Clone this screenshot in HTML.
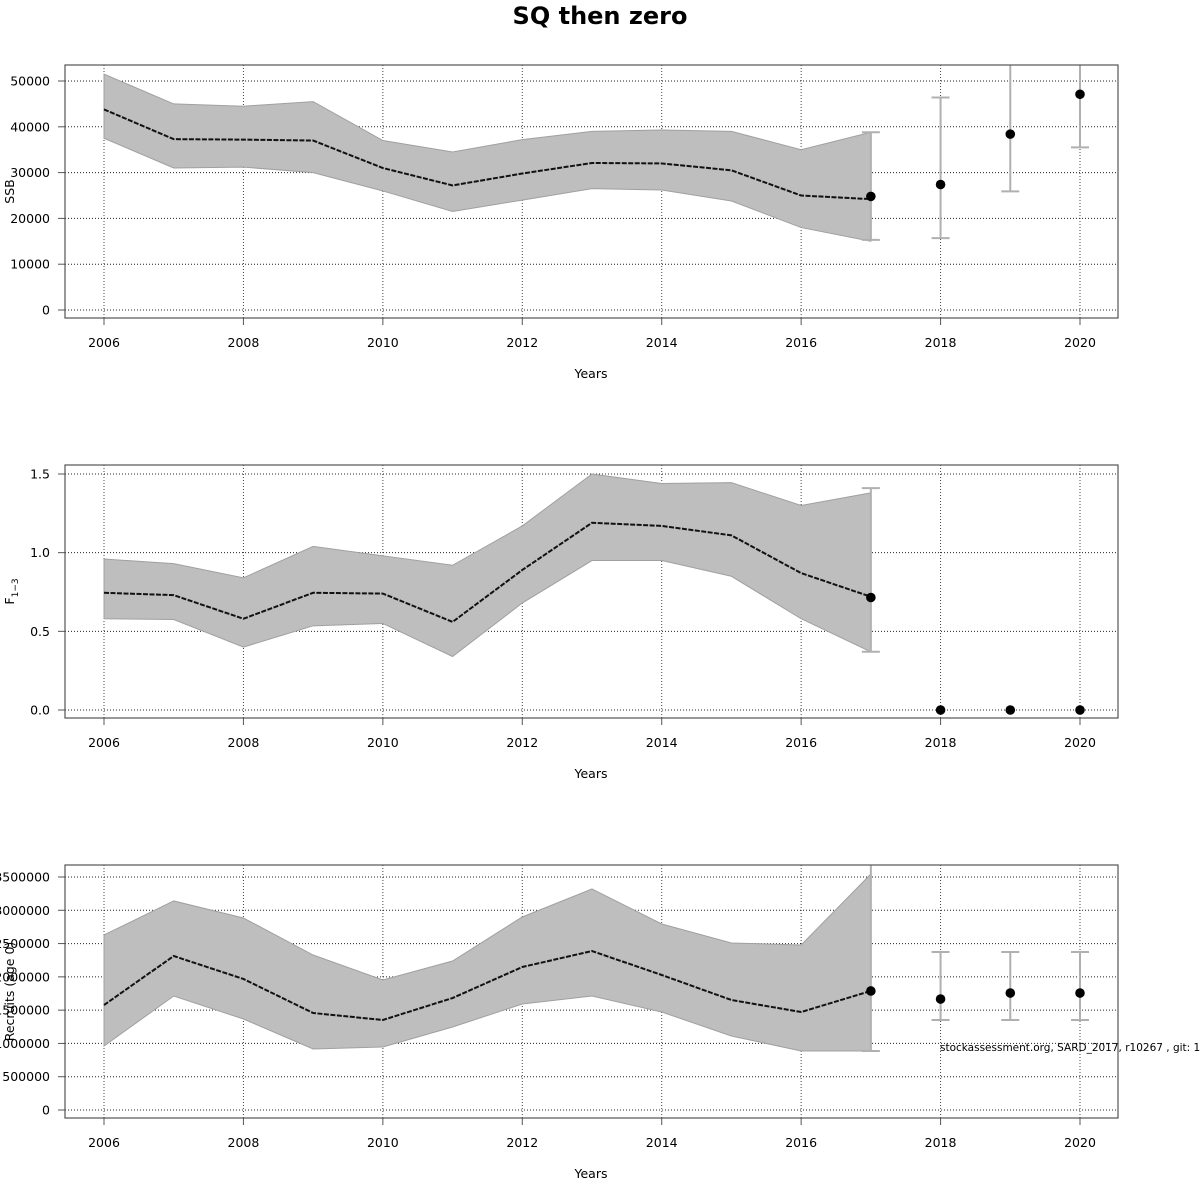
<!DOCTYPE html>
<html><head><meta charset="utf-8"><style>
html,body{margin:0;padding:0;background:#fff}
svg{display:block;font-family:"DejaVu Sans","Liberation Sans",sans-serif}
</style></head><body>
<svg id="c" width="1200" height="1200" viewBox="0 0 1200 1200">
<text x="600" y="24" text-anchor="middle" font-size="24" font-weight="bold">SQ then zero</text>
<text x="940" y="1051" font-size="10.5">stockassessment.org, SARD_2017, r10267 , git: 121ae</text>
</svg>
<script>
const years=[2006,2007,2008,2009,2010,2011,2012,2013,2014,2015,2016,2017];
const fcYears=[2017,2018,2019,2020];
const xTicks=[2006,2008,2010,2012,2014,2016,2018,2020];
// SSB
const ssbMean=[43800,37300,37200,37000,31000,27200,29800,32100,32000,30500,25000,24200];
const ssbHi=[51500,45000,44500,45500,37000,34500,37200,39000,39300,39000,35000,38800];
const ssbLo=[37500,31000,31200,30000,26000,21500,24000,26500,26200,23800,18000,15000];
const ssbPts=[24800,27400,38400,47100];
const ssbPtsLo=[15300,15700,25900,35500];
const ssbPtsHi=[38800,46400,56000,62000];
const ssbTicks=[0,10000,20000,30000,40000,50000];
// F
const fMean=[0.745,0.73,0.58,0.745,0.74,0.56,0.89,1.19,1.17,1.11,0.87,0.72];
const fHi=[0.96,0.93,0.84,1.04,0.98,0.92,1.17,1.50,1.44,1.445,1.30,1.38];
const fLo=[0.58,0.575,0.40,0.535,0.55,0.34,0.68,0.95,0.95,0.85,0.58,0.37];
const fPts=[0.715,0,0,0];
const fPtsLo=[0.37,0,0,0];
const fPtsHi=[1.41,0,0,0];
const fTicks=[0,0.5,1.0,1.5];
const fTickLabels=["0.0","0.5","1.0","1.5"];
// Recruits
const rMean=[1577000,2313000,1968000,1457000,1352000,1682000,2148000,2388000,2028000,1652000,1472000,1788000];
const rHi=[2629000,3140000,2884000,2328000,1953000,2238000,2899000,3320000,2794000,2509000,2479000,3545000];
const rLo=[961000,1712000,1367000,916000,946000,1247000,1592000,1712000,1472000,1112000,886000,886000];
const rPts=[1788000,1667000,1757000,1757000];
const rPtsLo=[886000,1352000,1352000,1352000];
const rPtsHi=[3700000,2373000,2373000,2373000];
const rTicks=[0,500000,1000000,1500000,2000000,2500000,3000000,3500000];

const svg=document.getElementById('c');
const NS='http://www.w3.org/2000/svg';
function mk(tag,attrs,parent){const e=document.createElementNS(NS,tag);for(const k in attrs)e.setAttribute(k,attrs[k]);(parent||svg).appendChild(e);return e;}
const xs=y=>104+(y-2006)*(1080-104)/14;
const L=65,R=1118;

function panel(cfg){
  const {top,bot,y0px,ymaxpx,ymaxVal,name}=cfg;
  const ys=v=>y0px-v*(y0px-ymaxpx)/ymaxVal;
  const g=mk('g',{});
  
  
  const cid='clip-'+name;
  const cp=mk('clipPath',{id:cid},g);mk('rect',{x:L,y:top,width:R-L,height:bot-top},cp);
  xTicks.forEach(t=>{const l=mk('line',{x1:xs(t),x2:xs(t),y1:top,y2:bot,stroke:'#444','stroke-dasharray':'1,2','stroke-width':1},g);
    });
  cfg.ticks.forEach(t=>{const l=mk('line',{x1:L,x2:R,y1:ys(t),y2:ys(t),stroke:'#222','stroke-dasharray':'1,2','stroke-width':1},g);
    });
  const cg=mk('g',{'clip-path':'url(#'+cid+')'},g);
  let pts=years.map((y,i)=>xs(y)+','+ys(cfg.hi[i])).concat(years.slice().reverse().map((y,j)=>xs(y)+','+ys(cfg.lo[years.length-1-j])));
  const band=mk('polygon',{points:pts.join(' '),fill:'#bebebe',stroke:'#a0a0a0','stroke-width':1},cg);
  
  const line=mk('polyline',{points:years.map((y,i)=>xs(y)+','+ys(cfg.mean[i])).join(' '),fill:'none',stroke:'#111','stroke-width':2,'stroke-dasharray':'5,1.5'},cg);
  
  fcYears.forEach((y,i)=>{
    if(cfg.pHi[i]!==cfg.pLo[i]){
      const x=xs(y);
      const e=mk('path',{d:`M${x},${ys(cfg.pLo[i])}V${ys(cfg.pHi[i])}M${x-9},${ys(cfg.pLo[i])}h18M${x-9},${ys(cfg.pHi[i])}h18`,stroke:'#b0b0b0','stroke-width':2,fill:'none'},cg);
      
    }
  });
  fcYears.forEach((y,i)=>{
    const c=mk('circle',{cx:xs(y),cy:ys(cfg.pts[i]),r:4.8,fill:'#000'},g);
    
  });
  const b=mk('rect',{x:L,y:top,width:R-L,height:bot-top,fill:'none',stroke:'#555','stroke-width':1.2},g);
  
  xTicks.forEach(t=>{mk('line',{x1:xs(t),x2:xs(t),y1:bot,y2:bot+7,stroke:'#555'},g);
    const tx=mk('text',{x:xs(t),y:bot+29,'text-anchor':'middle','font-size':12.5},g);tx.textContent=t;
    });
  cfg.ticks.forEach((t,i)=>{mk('line',{x1:L-7,x2:L,y1:ys(t),y2:ys(t),stroke:'#555'},g);
    const tx=mk('text',{x:50,y:ys(t)+4.5,'text-anchor':'end','font-size':12.5},g);tx.textContent=cfg.tickLabels[i];
    });
  const xt=mk('text',{x:591,y:bot+60,'text-anchor':'middle','font-size':12.5},g);xt.textContent='Years';
  
  const yt=mk('text',{x:0,y:0,'text-anchor':'middle','font-size':12.5,transform:`translate(14,${(top+bot)/2}) rotate(-90)`},g);
  if(cfg.ylabelSub){yt.textContent='F';const s=mk('tspan',{'font-size':9,dy:4},yt);s.textContent='1\u22123';}
  else yt.textContent=cfg.ylabel;
  
}
panel({name:'ssb',top:65,bot:318,y0px:310,ymaxpx:81,ymaxVal:50000,mean:ssbMean,hi:ssbHi,lo:ssbLo,pts:ssbPts,pLo:ssbPtsLo,pHi:ssbPtsHi,ticks:ssbTicks,tickLabels:ssbTicks.map(String),ylabel:'SSB'});
panel({name:'f',top:465,bot:718,y0px:710,ymaxpx:474,ymaxVal:1.5,mean:fMean,hi:fHi,lo:fLo,pts:fPts,pLo:fPtsLo,pHi:fPtsHi,ticks:fTicks,tickLabels:fTickLabels,ylabelSub:true});
panel({name:'recruits',top:865,bot:1118,y0px:1110,ymaxpx:877,ymaxVal:3500000,mean:rMean,hi:rHi,lo:rLo,pts:rPts,pLo:rPtsLo,pHi:rPtsHi,ticks:rTicks,tickLabels:rTicks.map(String),ylabel:'Recruits (age 0)'});
</script>
</body></html>
